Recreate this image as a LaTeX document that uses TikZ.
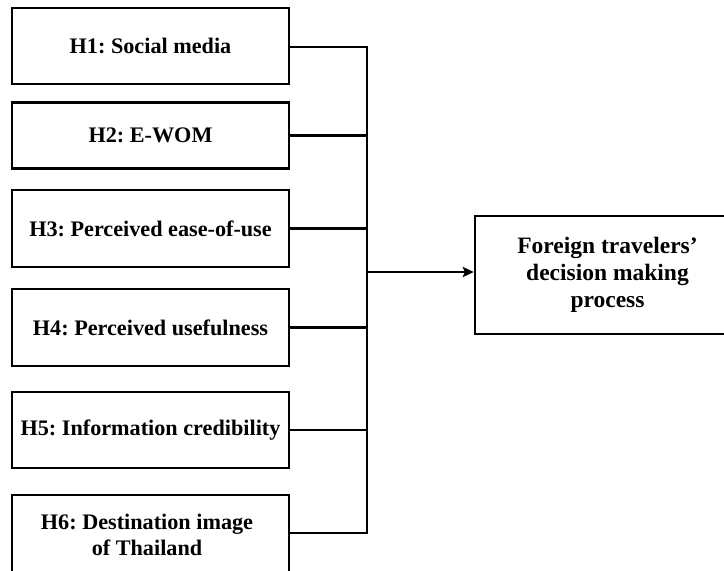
\documentclass[tikz,border=0pt]{standalone}
\usepackage{fontspec}
\setmainfont{Liberation Serif}
\usetikzlibrary{arrows.meta}
\frenchspacing
\begin{document}
\begin{tikzpicture}[x=1pt,y=1pt,
  hbox/.style={draw, line width=2.4pt, minimum width=277pt, inner sep=0pt, align=center,
    font=\fontsize{22.2}{26}\selectfont\bfseries},
  outbox/.style={draw, line width=2.4pt, minimum width=265pt, minimum height=118pt, inner sep=0pt, align=center,
    font=\fontsize{23.5}{27}\selectfont\bfseries},
  wire/.style={line width=2.4pt},
  arr/.style={line width=2.4pt, -{Stealth[length=11pt,width=10pt,inset=2pt]}}]
\useasboundingbox (0,0) rectangle (724,-571);
\fill[white] (0,0) rectangle (724,-571);
\clip (0,0) rectangle (724,-571);
\node[hbox, minimum height=76pt] (h1) at (150.5,-46) {H1: Social media};
\node[hbox, minimum height=66pt] (h2) at (150.5,-135.5) {H2: E-WOM};
\node[hbox, minimum height=77pt] (h3) at (150.5,-228.5) {H3: Perceived ease-of-use};
\node[hbox, minimum height=77pt] (h4) at (150.5,-327.5) {H4: Perceived usefulness};
\node[hbox, minimum height=76pt] (h5) at (150.5,-430) {H5: Information credibility};
\node[hbox, minimum height=120pt] (h6) at (150.5,-555) {};
\node[font=\fontsize{22.2}{26}\selectfont\bfseries, align=center, inner sep=0pt] (h6t) at (147,-535) {H6: Destination image\\of Thailand};
\node[outbox] (out) at (607.5,-275) {Foreign travelers’\\decision making\\process};
\coordinate (b1) at (367,-47);
\coordinate (b6) at (367,-533);
\coordinate (bm) at (367,-272);
\draw[wire] (h1.east |- b1) -- (b1) -- (b6) -- (b6 -| h6.east);
\draw[wire] (h2.east) -- (h2.east -| b1);
\draw[wire] (h3.east) -- (h3.east -| b1);
\draw[wire] (h4.east) -- (h4.east -| b1);
\draw[wire] (h5.east) -- (h5.east -| b1);
\draw[arr] (bm) -- (bm -| out.west);
\end{tikzpicture}
\end{document}
